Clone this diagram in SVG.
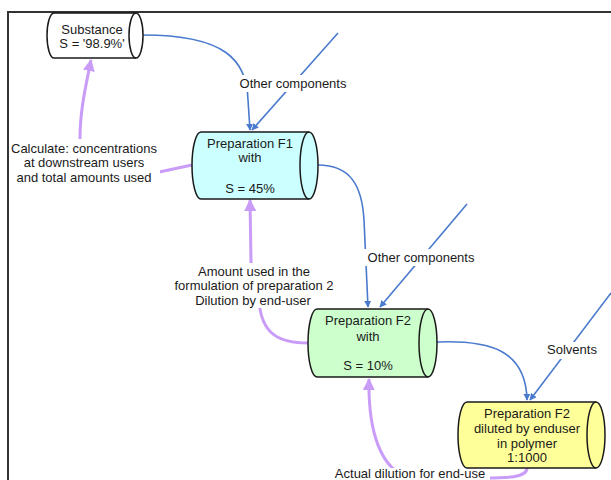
<svg xmlns="http://www.w3.org/2000/svg" width="611" height="480" viewBox="0 0 611 480">
<defs>
<style>
.t{font-family:"Liberation Sans",Arial,sans-serif;font-size:13px;fill:#1a1a1a;text-anchor:middle}
.cyl{stroke:#1a1a1a;stroke-width:1.5}
.cap{fill:none;stroke:#1a1a1a;stroke-width:1.5}
.blue{fill:none;stroke:#4a7acd;stroke-width:1.6}
.purple{fill:none;stroke:#c99cf8;stroke-width:3}
.bg{fill:#ffffff}
</style>
<marker id="ab" viewBox="0 0 10 10" refX="9" refY="5" markerWidth="7" markerHeight="7" orient="auto" markerUnits="userSpaceOnUse">
<path d="M0,0 L10,5 L0,10 Z" fill="#4a7acd"/>
</marker>
<marker id="ap" viewBox="0 0 12 12" refX="11" refY="6" markerWidth="12" markerHeight="12" orient="auto" markerUnits="userSpaceOnUse">
<path d="M0,0 L12,6 L0,12 Z" fill="#c99cf8"/>
</marker>
</defs>
<rect x="0" y="0" width="611" height="480" fill="#ffffff"/>
<g id="frame">
<path d="M8,480 L8,12 L611,12" fill="none" stroke="#333333" stroke-width="2"/>
</g>
<g id="connectors">
<path class="blue" d="M143,35 C225,35 247,60 248,100 L250,130" marker-end="url(#ab)"/>
<path class="blue" d="M338,33 L252,130" marker-end="url(#ab)"/>
<path class="blue" d="M318,165 C350,165 362,185 364,220 L368,307" marker-end="url(#ab)"/>
<path class="blue" d="M467,204 L380,307" marker-end="url(#ab)"/>
<path class="blue" d="M437,342 C490,340 526,350 527,400" marker-end="url(#ab)"/>
<path class="blue" d="M611,293 L530,400" marker-end="url(#ab)"/>
<path class="purple" d="M192,165 L150,174 Q80,174 80,138 C80,110 86,85 91,60" marker-end="url(#ap)"/>
<path class="purple" d="M308,343 C280,343 261,335 259,300 L251,262 L250,200" marker-end="url(#ap)"/>
<path class="purple" d="M527,468 C527,478 505,478 485,478 L410,478 C380,470 368,430 369,379" marker-end="url(#ap)"/>
</g>
<g id="labels">
<g id="label-other1"><rect class="bg" x="236" y="75" width="115" height="17"/><text class="t" x="293" y="87.5">Other components</text></g>
<g id="label-other2"><rect class="bg" x="364" y="249" width="115" height="17"/><text class="t" x="421" y="261.5">Other components</text></g>
<g id="label-solvents"><rect class="bg" x="544" y="342" width="57" height="17"/><text class="t" x="572" y="353.5">Solvents</text></g>
<g id="label-calc"><rect class="bg" x="10" y="139" width="150" height="47"/>
<text class="t" x="84" y="152.5">Calculate: concentrations</text>
<text class="t" x="84" y="167">at downstream users</text>
<text class="t" x="84" y="181.5">and total amounts used</text></g>
<g id="label-amount"><rect class="bg" x="170" y="263" width="168" height="45"/>
<text class="t" x="254" y="275.5">Amount used in the</text>
<text class="t" x="254" y="290">formulation of preparation 2</text>
<text class="t" x="253" y="304.5">Dilution by end-user</text></g>
<g id="label-actual"><rect class="bg" x="331" y="468" width="159" height="12"/>
<text class="t" x="410" y="478">Actual dilution for end-use</text></g>
</g>
<g id="substance">
<path class="cyl" fill="#ffffff" d="M54,13 H136 A7,22.5 0 0 1 136,58 H54 A7,22.5 0 0 1 54,13 Z"/>
<path class="cap" d="M136,13 A7,22.5 0 0 0 136,58"/>
<text class="t" x="92" y="33.5">Substance</text>
<text class="t" x="92" y="48">S = '98.9%'</text>
</g>
<g id="f1">
<path class="cyl" fill="#ccffff" d="M201,132 H309 A9,33.5 0 0 1 309,199 H201 A9,33.5 0 0 1 201,132 Z"/>
<path class="cap" d="M309,132 A9,33.5 0 0 0 309,199"/>
<text class="t" x="250" y="147.5">Preparation F1</text>
<text class="t" x="250" y="161.5">with</text>
<text class="t" x="250" y="192.5">S = 45%</text>
</g>
<g id="f2">
<path class="cyl" fill="#ccffcc" d="M317,309 H428 A9,34 0 0 1 428,377 H317 A9,34 0 0 1 317,309 Z"/>
<path class="cap" d="M428,309 A9,34 0 0 0 428,377"/>
<text class="t" x="368" y="324.5">Preparation F2</text>
<text class="t" x="368" y="341">with</text>
<text class="t" x="368" y="370">S = 10%</text>
</g>
<g id="f2-diluted">
<path class="cyl" fill="#ffff99" d="M467,402 H596 A9,33 0 0 1 596,468 H467 A9,33 0 0 1 467,402 Z"/>
<path class="cap" d="M596,402 A9,33 0 0 0 596,468"/>
<text class="t" x="527" y="417.5">Preparation F2</text>
<text class="t" x="527" y="432.5">diluted by enduser</text>
<text class="t" x="527" y="448">in polymer</text>
<text class="t" x="527" y="461.5">1:1000</text>
</g>
</svg>
